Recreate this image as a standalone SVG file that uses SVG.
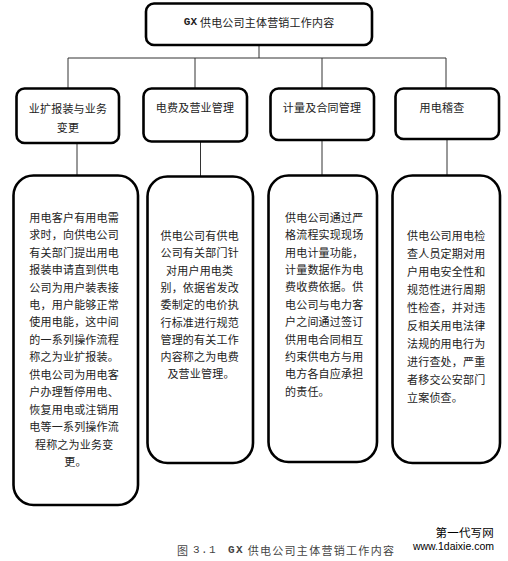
<svg xmlns="http://www.w3.org/2000/svg" width="508" height="561" viewBox="0 0 508 561">
<style>
.box{fill:#fff;stroke:#000;stroke-width:2.6}
.con{stroke:#333;stroke-width:1;fill:none}
.t{font-family:"Noto Sans CJK SC","Noto Sans",sans-serif;font-size:11px;fill:#222;letter-spacing:0.2px;dominant-baseline:central}
.c{text-anchor:middle}
.m{font-family:"Liberation Mono",monospace;font-weight:bold}
</style>
<rect width="508" height="561" fill="#fff"/>
<g id="connectors">
<path class="con" d="M259 45V58"/>
<path class="con" stroke-width="1.6" d="M68 58H446"/>
<path class="con" d="M68 58V88M195 58V88M322 58V88M446 58V88"/>
<path class="con" d="M77 143V175M200.5 142V176M322 140V175M447 139V175"/>
</g>
<g id="root">
<rect class="box" x="146" y="3.5" width="226" height="41.5" rx="8"/>
<text class="t c" x="259" y="22"><tspan class="m">GX</tspan> 供电公司主体营销工作内容</text>
</g>
<g id="n1">
<rect class="box" x="16.5" y="88.5" width="102.5" height="54.5" rx="8"/>
<text class="t c" x="68" y="108">业扩报装与业务</text>
<text class="t c" x="68" y="127">变更</text>
</g>
<g id="n2">
<rect class="box" x="143.5" y="88.5" width="103.5" height="53" rx="8"/>
<text class="t c" x="195" y="107">电费及营业管理</text>
</g>
<g id="n3">
<rect class="box" x="270.5" y="88.5" width="103.5" height="51.5" rx="8"/>
<text class="t c" x="322" y="107">计量及合同管理</text>
</g>
<g id="n4">
<rect class="box" x="395.5" y="88.5" width="103.5" height="50.5" rx="8"/>
<text class="t c" x="442" y="107">用电稽查</text>
</g>
<g id="d1">
<rect class="box" x="13.5" y="175.5" width="124.5" height="329.5" rx="20"/>
<text class="t c">
<tspan x="75.5" y="216.7">用电客户有用电需</tspan>
<tspan x="75.5" y="234.1">求时，向供电公司</tspan>
<tspan x="75.5" y="251.6">有关部门提出用电</tspan>
<tspan x="75.5" y="269">报装申请直到供电</tspan>
<tspan x="75.5" y="286.5">公司为用户装表接</tspan>
<tspan x="75.5" y="303.9">电，用户能够正常</tspan>
<tspan x="75.5" y="321.4">使用电能，这中间</tspan>
<tspan x="75.5" y="338.8">的一系列操作流程</tspan>
<tspan x="75.5" y="356.3">称之为业扩报装。</tspan>
<tspan x="75.5" y="373.7">供电公司为用电客</tspan>
<tspan x="75.5" y="391.2">户办理暂停用电、</tspan>
<tspan x="75.5" y="408.6">恢复用电或注销用</tspan>
<tspan x="75.5" y="426.1">电等一系列操作流</tspan>
<tspan x="75.5" y="443.5">程称之为业务变</tspan>
<tspan x="75.5" y="461">更。</tspan>
</text>
</g>
<g id="d2">
<rect class="box" x="147.5" y="176.5" width="105.5" height="286.5" rx="20"/>
<text class="t c">
<tspan x="201" y="235">供电公司有供电</tspan>
<tspan x="201" y="252.3">公司有关部门针</tspan>
<tspan x="201" y="269.6">对用户用电类</tspan>
<tspan x="201" y="286.9">别，依据省发改</tspan>
<tspan x="201" y="304.2">委制定的电价执</tspan>
<tspan x="201" y="321.5">行标准进行规范</tspan>
<tspan x="201" y="338.8">管理的有关工作</tspan>
<tspan x="201" y="356.1">内容称之为电费</tspan>
<tspan x="201" y="373.4">及营业管理。</tspan>
</text>
</g>
<g id="d3">
<rect class="box" x="268.5" y="175.5" width="108.5" height="286.5" rx="20"/>
<text class="t">
<tspan x="285" y="216.7">供电公司通过严</tspan>
<tspan x="285" y="234.1">格流程实现现场</tspan>
<tspan x="285" y="251.5">用电计量功能，</tspan>
<tspan x="285" y="268.9">计量数据作为电</tspan>
<tspan x="285" y="286.3">费收费依据。供</tspan>
<tspan x="285" y="303.7">电公司与电力客</tspan>
<tspan x="285" y="321.1">户之间通过签订</tspan>
<tspan x="285" y="338.5">供用电合同相互</tspan>
<tspan x="285" y="355.9">约束供电方与用</tspan>
<tspan x="285" y="373.3">电方各自应承担</tspan>
<tspan x="285" y="390.7">的责任。</tspan>
</text>
</g>
<g id="d4">
<rect class="box" x="392.5" y="175.5" width="107.5" height="287.5" rx="20"/>
<text class="t">
<tspan x="407" y="235">供电公司用电检</tspan>
<tspan x="407" y="253">查人员定期对用</tspan>
<tspan x="407" y="271">户用电安全性和</tspan>
<tspan x="407" y="289">规范性进行周期</tspan>
<tspan x="407" y="307">性检查，并对违</tspan>
<tspan x="407" y="325">反相关用电法律</tspan>
<tspan x="407" y="343">法规的用电行为</tspan>
<tspan x="407" y="361">进行查处，严重</tspan>
<tspan x="407" y="379">者移交公安部门</tspan>
<tspan x="407" y="397">立案侦查。</tspan>
</text>
</g>
<text class="t" x="177" y="550" xml:space="preserve" style="fill:#444;letter-spacing:1.3px">图 <tspan font-family="Liberation Mono,monospace">3.1</tspan>   <tspan class="m">GX</tspan> 供电公司主体营销工作内容</text>
<text class="t" x="494" y="531.5" text-anchor="end" style="font-size:11.5px;fill:#000">第一代写网</text>
<text x="494" y="549.5" text-anchor="end" style="font-family:'Liberation Sans',sans-serif;font-size:10.5px;fill:#000">www.1daixie.com</text>
</svg>
